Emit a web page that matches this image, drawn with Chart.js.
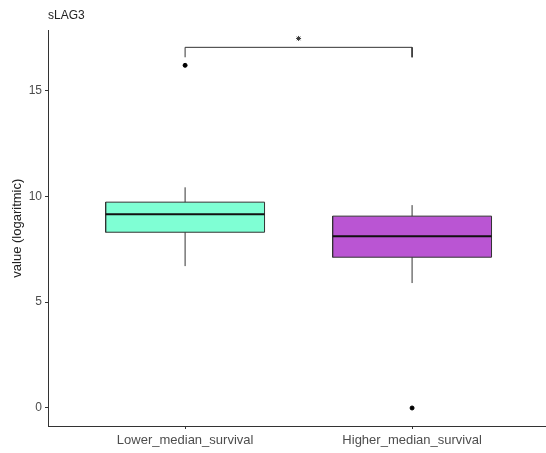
<!DOCTYPE html>
<html>
<head>
<meta charset="utf-8">
<script src="https://cdn.jsdelivr.net/npm/chart.js@4.4.0/dist/chart.umd.min.js"></script>
<style>
  html, body { margin: 0; padding: 0; background: #fff; }
  #wrap { width: 546px; height: 453px; }
</style>
</head>
<body>
<div id="wrap"><canvas id="boxChart"></canvas></div>
<script>
// values (log scale values)
const categories = ['Lower_median_survival', 'Higher_median_survival'];
const whiskerLow = [6.70, 5.90];
const q1 = [8.30, 7.12];
const median = [9.15, 8.11];
const q3 = [9.72, 9.06];
const whiskerHigh = [10.42, 9.58];
const outliers = [[16.18], [0]];
const boxColors = ['#7FFFD4', '#BA55D3'];
const yTicks = [0, 5, 10, 15];

// significance bracket between the two groups
const bracketY = 17.03;
const bracketFoot = 16.56;
const starY = 17.45;

const boxHalf = 0.35;
const lineColor = '#333333';
const font = 'Liberation Sans, Arial, sans-serif';

const datasets = [];

// medians first so they are drawn on top of the boxes
categories.forEach((c, i) => {
    const x = i + 1;
    datasets.push({
        data: [{x: x - boxHalf, y: median[i]}, {x: x + boxHalf, y: median[i]}],
        borderColor: '#111', borderWidth: 2, pointRadius: 0, fill: false
    });
    datasets.push({
        data: [{x: x, y: q3[i]}, {x: x, y: whiskerHigh[i]}],
        borderColor: lineColor, borderWidth: 1, pointRadius: 0, fill: false
    });
    datasets.push({
        data: [{x: x, y: whiskerLow[i]}, {x: x, y: q1[i]}],
        borderColor: lineColor, borderWidth: 1, pointRadius: 0, fill: false
    });
    datasets.push({
        data: outliers[i].map(v => ({x: x, y: v})),
        showLine: false, pointRadius: 2, pointBackgroundColor: '#000',
        pointBorderColor: '#000', fill: false
    });
});

// bracket + star
datasets.push({
    data: [{x: 1, y: bracketFoot}, {x: 1, y: bracketY}, {x: 2, y: bracketY}, {x: 2, y: bracketFoot}],
    borderColor: lineColor, borderWidth: 1, pointRadius: 0, fill: false
});
datasets.push({
    data: [{x: 1.5, y: starY}],
    showLine: false, pointStyle: 'star', pointRadius: 2.5, pointBorderWidth: 1,
    pointBorderColor: lineColor, fill: false
});

// boxes last (drawn underneath)
categories.forEach((c, i) => {
    const x = i + 1;
    datasets.push({
        data: [
            {x: x - boxHalf, y: q1[i]}, {x: x + boxHalf, y: q1[i]},
            {x: x + boxHalf, y: q3[i]}, {x: x - boxHalf, y: q3[i]},
            {x: x - boxHalf, y: q1[i]}
        ],
        borderColor: lineColor, borderWidth: 1, pointRadius: 0,
        backgroundColor: boxColors[i], fill: 'shape', tension: 0
    });
});

// put the title over the panel's left edge like ggplot does
const titleToPanel = {
    id: 'titleToPanel',
    afterLayout(chart) {
        if (chart.titleBlock) chart.titleBlock.left = chart.chartArea.left;
    }
};

const ctx = document.getElementById('boxChart').getContext('2d');
new Chart(ctx, {
    type: 'line',
    data: { datasets: datasets },
    options: {
        responsive: true,
        maintainAspectRatio: false,
        animation: false,
        layout: { padding: 0, autoPadding: false },
        plugins: {
            legend: { display: false },
            tooltip: { enabled: false },
            title: {
                display: true,
                text: 'sLAG3',
                align: 'start',
                color: '#222',
                font: { family: font, size: 12, weight: 'normal' },
                padding: { top: 8, bottom: 8 }
            }
        },
        scales: {
            x: {
                type: 'linear',
                min: 0.396,
                max: 2.59,
                afterBuildTicks: scale => { scale.ticks = categories.map((c, i) => ({value: i + 1})); },
                afterFit: scale => { scale.height = 27; },
                ticks: {
                    callback: v => categories[v - 1],
                    color: '#4d4d4d',
                    font: { family: font, size: 13 },
                    padding: 4,
                    maxRotation: 0
                },
                grid: { drawOnChartArea: false, drawTicks: true, tickLength: 3, tickColor: lineColor },
                border: { display: true, color: lineColor, width: 1 }
            },
            y: {
                min: -0.85,
                max: 17.83,
                afterBuildTicks: scale => { scale.ticks = yTicks.map(v => ({value: v})); },
                afterFit: scale => { scale.width = 48; },
                ticks: {
                    color: '#4d4d4d',
                    font: { family: font, size: 12 },
                    padding: 3
                },
                grid: { drawOnChartArea: false, drawTicks: true, tickLength: 3, tickColor: lineColor },
                border: { display: true, color: lineColor, width: 1 },
                title: {
                    display: true,
                    text: 'value (logaritmic)',
                    color: '#222',
                    font: { family: font, size: 13 },
                    padding: { top: 10, bottom: 0 }
                }
            }
        }
    },
    plugins: [titleToPanel]
});
</script>
</body>
</html>
